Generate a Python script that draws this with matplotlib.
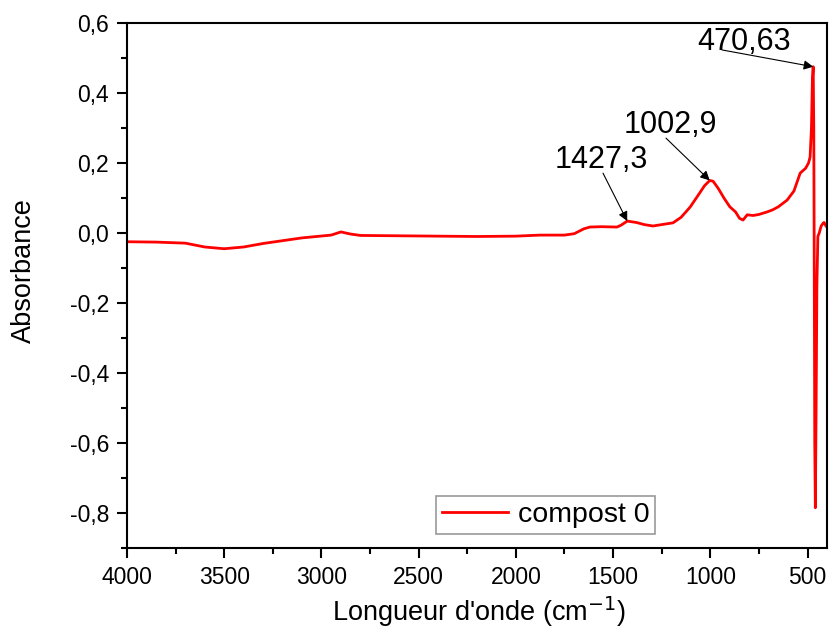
import matplotlib.pyplot as plt
import numpy as np
from matplotlib.ticker import FuncFormatter, MultipleLocator

plt.rcParams['font.family'] = ['Liberation Sans', 'DejaVu Sans']

# FTIR spectrum, compost 0 (wavenumber in cm-1, absorbance)
wavenumber = [4000, 3850, 3700, 3600, 3500, 3400, 3300, 3200, 3100, 2950,
              2900, 2850, 2800, 2600, 2400, 2200, 2000, 1876, 1750, 1700,
              1650, 1619, 1560, 1480, 1460, 1427, 1380, 1340, 1295, 1250,
              1192, 1150, 1104, 1060, 1030, 1003, 986, 960, 930, 900,
              870, 850, 832, 810, 780, 750, 709, 680, 650, 605,
              570, 538, 510, 495, 487, 480, 475, 471, 468, 465,
              463, 460, 456, 452, 447, 440, 430, 420, 415, 405]
absorbance = [-0.025, -0.026, -0.029, -0.04, -0.045, -0.04, -0.03, -0.022, -0.014, -0.006,
              0.003, -0.003, -0.007, -0.008, -0.009, -0.01, -0.009, -0.006, -0.006, -0.002,
              0.012, 0.017, 0.018, 0.017, 0.022, 0.034, 0.03, 0.024, 0.02, 0.024,
              0.029, 0.045, 0.074, 0.11, 0.135, 0.15, 0.148, 0.128, 0.1, 0.075,
              0.06, 0.042, 0.037, 0.052, 0.05, 0.053, 0.06, 0.066, 0.075, 0.094,
              0.12, 0.171, 0.185, 0.2, 0.217, 0.3, 0.44, 0.475, 0.3, -0.2,
              -0.6, -0.785, -0.5, -0.15, -0.01, 0.0, 0.02, 0.028, 0.03, 0.02]

# peak labels: arrow tip, arrow tail and text centre
peak_labels = ['470,63', '1002,9', '1427,3']
peak_x = [470.63, 1002.9, 1427.3]
peak_y = [0.475, 0.15, 0.034]
tail_x = [940, 1228, 1552]
tail_y = [0.523, 0.271, 0.171]
text_x = [826, 1208, 1562]
text_y = [0.546, 0.309, 0.209]

fig = plt.figure(figsize=(8.32, 6.35), dpi=100)
ax = fig.add_axes([0.1526, 0.137, 0.8414, 0.8268])

ax.plot(wavenumber, absorbance, color='red', lw=2, label='compost 0')

for i, lab in enumerate(peak_labels):
    ax.annotate('', xy=(peak_x[i], peak_y[i]), xytext=(tail_x[i], tail_y[i]),
                arrowprops=dict(arrowstyle='-|>', color='k', lw=0.8,
                                mutation_scale=14, shrinkA=0, shrinkB=0))
    ax.text(text_x[i], text_y[i], lab, fontsize=22, ha='center', va='center')

ax.set_xlim(4000, 400)
ax.set_ylim(-0.9, 0.6)
ax.xaxis.set_major_locator(MultipleLocator(500))
ax.xaxis.set_minor_locator(MultipleLocator(250))
ax.yaxis.set_major_locator(MultipleLocator(0.2))
ax.yaxis.set_minor_locator(MultipleLocator(0.1))
ax.yaxis.set_major_formatter(FuncFormatter(lambda v, p: f"{v:.1f}".replace('.', ',').replace('-0,0', '0,0')))

ax.tick_params(which='major', direction='out', length=7, width=1.5, labelsize=16.5, pad=6)
ax.tick_params(which='minor', direction='out', length=4, width=1.5)
for s in ax.spines.values():
    s.set_linewidth(1.5)

ax.set_xlabel("Longueur d'onde (cm$^{-1}$)", fontsize=19.5)
ax.set_ylabel('Absorbance', fontsize=19.5)
ax.xaxis.set_label_coords(0.503, -0.088)
ax.yaxis.set_label_coords(-0.128, 0.528)

leg = ax.legend(loc='lower left', bbox_to_anchor=(0.442, 0.027), fontsize=20.5,
                fancybox=False, handlelength=2.3, borderpad=0.2,
                handletextpad=0.35, borderaxespad=0)
leg.get_frame().set_edgecolor('gray')
leg.get_frame().set_linewidth(1.2)

fig.savefig('out.png', dpi=100)
